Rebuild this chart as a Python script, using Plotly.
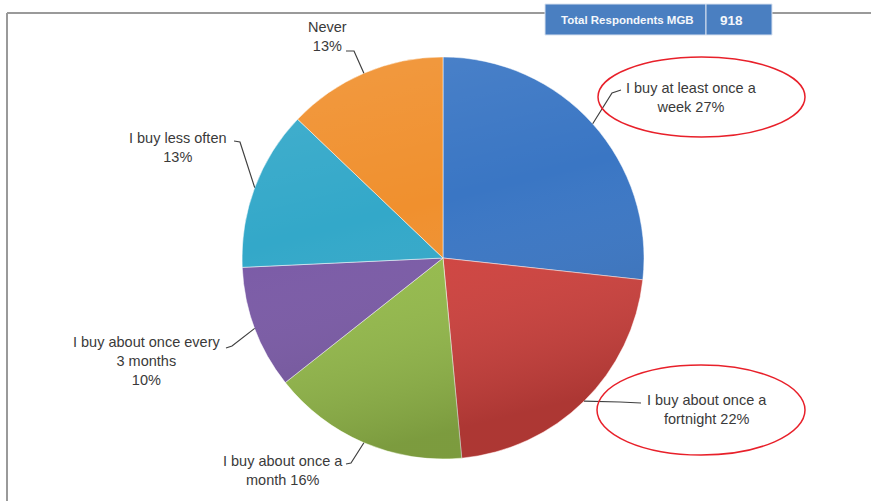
import math
import base64
import plotly.graph_objects as go

# Survey answers: how often respondents buy
categories = [
    "I buy at least once a week",
    "I buy about once a fortnight",
    "I buy about once a month",
    "I buy about once every 3 months",
    "I buy less often",
    "Never",
]
shares = [27, 22, 16, 10, 13, 13]
label_lines = [
    "I buy at least once a<br>week",
    "I buy about once a<br>fortnight",
    "I buy about once a<br>month",
    "I buy about once every<br>3 months<br>",
    "I buy less often<br>",
    "Never<br>",
]
slice_colors = ["#3a76c4", "#d0423e", "#95bb4b", "#7a5aa6", "#33a8c9", "#f0902e"]
respondents_label = "Total Respondents MGB"
respondents_total = 918

W, H = 871, 501
CX, CY, R = 443, 258, 201  # pie centre and radius in pixels

# label placement: (text centre x, y, elbow x, y, end x, y)
label_layout = [
    (691, 97, 612, 93, 621, 90),
    (707, 409, 620, 402, 641, 403),
    (283, 470, 351, 463, 346, 464),
    (146, 361, 232, 346, 226, 348),
    (178, 147, 240, 142, 234, 141),
    (327, 36, 354, 51, 346, 51),
]

fig = go.Figure()

fig.add_trace(go.Pie(
    labels=categories,
    values=shares,
    sort=False,
    direction="clockwise",
    rotation=0,
    textinfo="none",
    hoverinfo="label+percent",
    marker=dict(colors=slice_colors, line=dict(color="rgba(255,255,255,0.5)", width=1)),
    domain=dict(x=[(CX - R) / W, (CX + R) / W], y=[1 - (CY + R) / H, 1 - (CY - R) / H]),
    showlegend=False,
))

# hidden pixel-space axes for labels and leader lines
fig.add_trace(go.Scatter(x=[0, W], y=[0, H], mode="markers", marker=dict(opacity=0),
                         hoverinfo="skip", showlegend=False))

# soft vertical shading over the pie (lighter top, darker bottom)
shade_svg = (
    '<svg xmlns="http://www.w3.org/2000/svg" width="400" height="400" viewBox="0 0 400 400">'
    '<defs><linearGradient id="g" x1="0" y1="0" x2="0.25" y2="1">'
    '<stop offset="0" stop-color="#ffffff" stop-opacity="0.10"/>'
    '<stop offset="0.45" stop-color="#ffffff" stop-opacity="0"/>'
    '<stop offset="1" stop-color="#000000" stop-opacity="0.17"/>'
    '</linearGradient></defs>'
    '<circle cx="200" cy="200" r="199.5" fill="url(#g)"/></svg>'
)
shade_uri = "data:image/svg+xml;base64," + base64.b64encode(shade_svg.encode()).decode()

total = sum(shares)
shapes = []
annotations = []
cum = 0
for cat, val, text, lay in zip(categories, shares, label_lines, label_layout):
    mid = (cum + val / 2) / total * 2 * math.pi
    cum += val
    sx = CX + R * math.sin(mid)
    sy = CY - R * math.cos(mid)
    tx, ty, ex, ey, fx, fy = lay
    shapes.append(dict(type="path", xref="x", yref="y",
                       path=f"M {sx:.1f},{sy:.1f} L {ex},{ey} L {fx},{fy}",
                       line=dict(color="#404040", width=1.2)))
    sep = "" if text.endswith("<br>") else " "
    annotations.append(dict(x=tx, y=ty, xref="x", yref="y", showarrow=False,
                            text=f"{text}{sep}{val}%", align="center",
                            font=dict(family="Liberation Sans, Arial", size=14.5, color="#3a3a3a")))

# highlight ellipses around the two most frequent answers
shapes.append(dict(type="circle", xref="x", yref="y", x0=598, x1=805, y0=57, y1=137,
                   line=dict(color="#e8202a", width=1.5)))
shapes.append(dict(type="circle", xref="x", yref="y", x0=597, x1=805, y0=365, y1=455,
                   line=dict(color="#e8202a", width=1.5)))

# frame lines
shapes.append(dict(type="line", xref="x", yref="y", x0=7, x1=W, y0=13, y1=13,
                   line=dict(color="#9a9a9a", width=2)))
shapes.append(dict(type="line", xref="x", yref="y", x0=7, x1=7, y0=13, y1=H,
                   line=dict(color="#9a9a9a", width=2)))

# respondents box
shapes.append(dict(type="rect", xref="x", yref="y", x0=545, x1=706, y0=4, y1=35,
                   fillcolor="#4a7fc1", line=dict(color="#d8e2f0", width=1)))
shapes.append(dict(type="rect", xref="x", yref="y", x0=706, x1=772, y0=4, y1=35,
                   fillcolor="#4a7fc1", line=dict(color="#d8e2f0", width=1)))
annotations.append(dict(x=627, y=20, xref="x", yref="y", showarrow=False,
                        text=f"<b>{respondents_label}</b>",
                        font=dict(family="Liberation Sans, Arial", size=11.5, color="#f4f7fb")))
annotations.append(dict(x=731, y=20, xref="x", yref="y", showarrow=False,
                        text=f"<b>{respondents_total}</b>",
                        font=dict(family="Liberation Sans, Arial", size=13.5, color="#f4f7fb")))

fig.update_layout(
    width=W, height=H,
    margin=dict(l=0, r=0, t=0, b=0),
    paper_bgcolor="white", plot_bgcolor="rgba(0,0,0,0)",
    xaxis=dict(range=[0, W], visible=False, fixedrange=True),
    yaxis=dict(range=[H, 0], visible=False, fixedrange=True),
    shapes=shapes,
    annotations=annotations,
    images=[dict(source=shade_uri, xref="paper", yref="paper",
                 x=(CX - R) / W, y=1 - (CY - R) / H, sizex=2 * R / W, sizey=2 * R / H,
                 xanchor="left", yanchor="top", sizing="stretch", layer="above")],
    showlegend=False,
)

fig.write_html("out.html")
